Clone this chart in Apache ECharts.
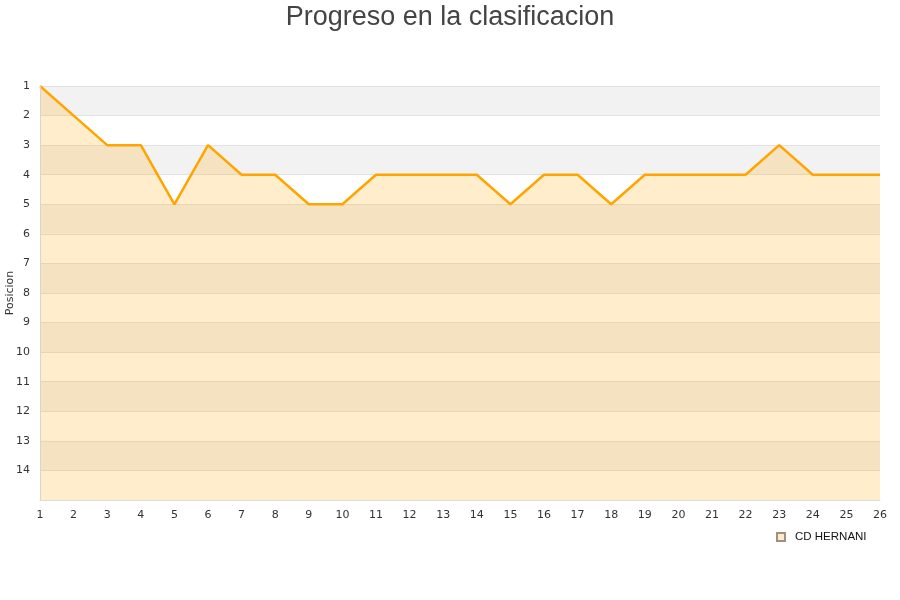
<!DOCTYPE html>
<html><head><meta charset="utf-8">
<script src="https://cdn.jsdelivr.net/npm/echarts@6/dist/echarts.min.js"></script>
<style>html,body{margin:0;padding:0;background:#fff}#c{width:900px;height:600px}</style>
</head><body><div id="c"></div>
<script>
const jornadas = ['1','2','3','4','5','6','7','8','9','10','11','12','13','14','15','16','17','18','19','20','21','22','23','24','25','26'];
const posiciones = [1,2,3,3,5,3,4,4,5,5,4,4,4,4,5,4,4,5,4,4,4,4,3,4,4,4];
const equipo = 'CD HERNANI';
const titulo = 'Progreso en la clasificacion';
const ejeY = 'Posicion';

const chart = echarts.init(document.getElementById('c'), null, {renderer:'canvas'});
chart.setOption({
  animation:false,
  backgroundColor:'#fff',
  title:{text:titulo,left:'center',top:-1,textStyle:{fontFamily:'Liberation Sans',fontSize:27,fontWeight:'normal',color:'#444'}},
  grid:{left:40,right:20,top:86,bottom:100,containLabel:false,outerBoundsMode:'none'},
  legend:{data:[{name:equipo,icon:'rect'}],left:771,top:526,itemWidth:8,itemHeight:8,itemGap:6,
    textStyle:{fontFamily:'Liberation Sans',fontSize:11.5,color:'#111',padding:[0,0,0,5]}},
  xAxis:{type:'category',data:jornadas,boundaryGap:false,
    axisLine:{lineStyle:{color:'#ddd'}},axisTick:{show:false},
    axisLabel:{color:'#333',fontFamily:'DejaVu Sans',fontSize:11,margin:10},
    splitLine:{show:false}},
  yAxis:[{type:'value',inverse:true,min:1,max:15,interval:1,name:ejeY,nameLocation:'middle',nameGap:24,nameMoveOverlap:false,
    nameTextStyle:{fontFamily:'DejaVu Sans',fontSize:11,color:'#333'},
    axisLine:{show:true,lineStyle:{color:'#ddd'}},axisTick:{show:false},
    axisLabel:{color:'#333',fontFamily:'DejaVu Sans',fontSize:11,margin:10,formatter:v=>v===15?'':v},
    splitLine:{show:true,lineStyle:{color:'#e2e2e2'}},
    splitArea:{show:true,areaStyle:{color:['#f2f2f2','#ffffff']}}},
   {type:'value',inverse:true,min:1,max:15,interval:1,position:'left',z:5,
    axisLine:{show:true,lineStyle:{color:'#d6d6d6'}},axisTick:{show:false},axisLabel:{show:false},
    splitLine:{show:false},splitArea:{show:false}}],
  series:[{name:equipo,type:'line',data:posiciones,showSymbol:false,symbol:'none',
    lineStyle:{color:'#ffa500',width:2.5},itemStyle:{color:'#ffebcc',borderColor:'#a09080',borderWidth:1},
    areaStyle:{origin:'end',color:'#ffa500',opacity:0.2}}]
});
</script></body></html>
